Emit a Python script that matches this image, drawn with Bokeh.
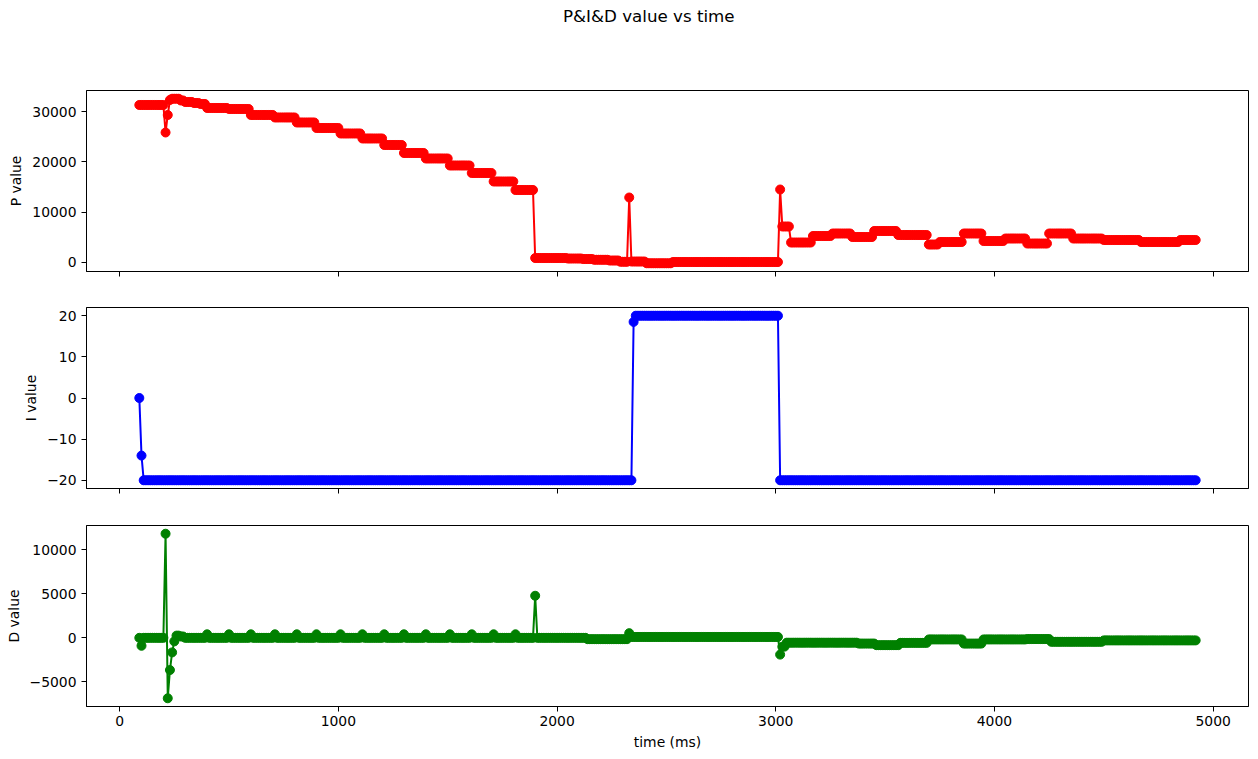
from bisect import bisect_right
from bokeh.plotting import figure
from bokeh.layouts import column
from bokeh.models import Range1d, FixedTicker, ColumnDataSource, Div
from bokeh.embed import file_html
from bokeh.resources import INLINE

# ---- data ----
title_text = "P&amp;I&amp;D value vs time"
x_label = "time (ms)"
y_labels = ["P value", "I value", "D value"]
series_colors = ["#ff0000", "#0000ff", "#008000"]

# logged samples: one every 10 ms from 90 ms to 4920 ms
sample_start_ms = 90
sample_period_ms = 10
sample_count = 484
time_ms = [sample_start_ms + sample_period_ms * k for k in range(sample_count)]

# each series is logged as plateaus: level holds from change time until next change
P_change_ms = [90, 210, 220, 230, 240, 280, 300, 340, 370, 400,
               500, 600, 710, 810, 900, 1010, 1110, 1210, 1300, 1400,
               1510, 1610, 1710, 1810, 1900, 2050, 2120, 2170, 2240, 2290,
               2330, 2340, 2410, 2530, 3020, 3030, 3070, 3170, 3260, 3350,
               3450, 3560, 3700, 3750, 3860, 3950, 4050, 4150, 4250, 4360,
               4500, 4670, 4850]
P_level = [31400, 25900, 29400, 32400, 32650, 32300, 32000, 31800, 31600, 30800,
           30600, 29400, 28900, 27900, 26800, 25700, 24700, 23400, 21800, 20700,
           19300, 17800, 16100, 14400, 800, 700, 600, 450, 300, 50,
           12900, 100, -250, 0, 14500, 7100, 3900, 5200, 5700, 5000,
           6200, 5400, 3500, 4000, 5700, 4200, 4700, 3700, 5700, 4700,
           4400, 4000, 4400]

I_change_ms = [90, 100, 110, 2350, 2360, 3020]
I_level = [0, -14, -20, 18.5, 20, -20]

D_change_ms = [90, 100, 110, 210, 220, 230, 240, 250, 260, 280,
               300, 400, 410, 500, 510, 600, 610, 710, 720, 810,
               820, 900, 910, 1010, 1020, 1110, 1120, 1210, 1220, 1300,
               1310, 1400, 1410, 1510, 1520, 1610, 1620, 1710, 1720, 1810,
               1820, 1900, 1910, 2140, 2330, 2340, 3020, 3030, 3050, 3380,
               3460, 3570, 3700, 3860, 3950, 4150, 4260, 4500]
D_level = [0, -900, 0, 11800, -6850, -3650, -1650, -400, 250, 150,
           0, 400, 0, 400, 0, 400, 0, 400, 0, 400,
           0, 400, 0, 400, 0, 400, 0, 400, 0, 400,
           0, 400, 0, 400, 0, 400, 0, 400, 0, 400,
           0, 4770, 0, -150, 530, 100, -1900, -1000, -550, -650,
           -830, -570, -180, -650, -180, -140, -450, -290]

x_ticks = [0, 1000, 2000, 3000, 4000, 5000]
P_ticks = [0, 10000, 20000, 30000]
I_ticks = [-20, -10, 0, 10, 20]
D_ticks = [-5000, 0, 5000, 10000]


def expand(change_ms, levels):
    out = []
    for t in time_ms:
        out.append(levels[bisect_right(change_ms, t) - 1])
    return out


P_val = expand(P_change_ms, P_level)
I_val = expand(I_change_ms, I_level)
D_val = expand(D_change_ms, D_level)

FONT = "DejaVu Sans"
FS = "13.9px"
MINUS = "\u2212"


def padded(lo, hi, frac=0.05):
    span = hi - lo
    return lo - frac * span, hi + frac * span


xr = Range1d(*padded(min(time_ms), max(time_ms)))

W = 1250
TITLE_H = 40
specs = [
    # values, ticks, ylabel, color, height, top, bottom, show x labels
    (P_val, P_ticks, y_labels[0], series_colors[0], 242, 40, 21, False),
    (I_val, I_ticks, y_labels[1], series_colors[1], 217, 15, 21, False),
    (D_val, D_ticks, y_labels[2], series_colors[2], 243, 16, 46, True),
]

figs = []
for vals, ticks, ylab, col, h, top, bot, show_x in specs:
    p = figure(width=W, height=h, output_backend="svg", toolbar_location=None,
               x_range=xr, y_range=Range1d(*padded(min(vals), max(vals))),
               min_border_left=86, min_border_right=2,
               min_border_top=top, min_border_bottom=bot)
    p.background_fill_color = "white"
    p.border_fill_color = "white"
    p.outline_line_color = "black"
    p.outline_line_width = 1
    p.xgrid.visible = False
    p.ygrid.visible = False

    src = ColumnDataSource(dict(t=time_ms, v=vals))
    p.line("t", "v", source=src, line_color=col, line_width=2)
    p.scatter("t", "v", source=src, size=9, fill_color=col, line_color=col)

    for ax in (p.xaxis[0], p.yaxis[0]):
        ax.axis_line_color = "black"
        ax.major_tick_line_color = "black"
        ax.major_tick_in = 0
        ax.major_tick_out = 5
        ax.minor_tick_line_color = None
        ax.major_label_text_font = FONT
        ax.major_label_text_font_size = FS
        ax.major_label_text_color = "black"
        ax.axis_label_text_font = FONT
        ax.axis_label_text_font_size = FS
        ax.axis_label_text_font_style = "normal"
        ax.axis_label_text_color = "black"

    p.xaxis.ticker = FixedTicker(ticks=x_ticks, minor_ticks=[])
    p.yaxis.ticker = FixedTicker(ticks=ticks, minor_ticks=[])
    p.yaxis.major_label_overrides = {t: MINUS + str(abs(t)) for t in ticks if t < 0}
    p.yaxis.axis_label = ylab
    p.yaxis.major_label_standoff = 5
    p.yaxis.axis_label_standoff = 5

    if show_x:
        p.xaxis.axis_label = x_label
        p.xaxis.major_label_standoff = 4
        p.xaxis.axis_label_standoff = 5
    else:
        # shared x axis: ticks only, no labels (as in the reference)
        p.xaxis.major_label_overrides = {t: "" for t in x_ticks}
        p.xaxis.major_label_text_color = None
        p.xaxis.major_label_standoff = 0
    figs.append(p)

title = Div(text=('<div style="margin-left:558px;margin-top:1px;font-family:\'DejaVu Sans\';'
                  'font-size:16.7px;line-height:20px;color:black;white-space:nowrap;">'
                  + title_text + '</div>'),
            width=W, height=TITLE_H)

layout = column(title, *figs, spacing=0)
open("out.html", "w").write(file_html(layout, INLINE))
